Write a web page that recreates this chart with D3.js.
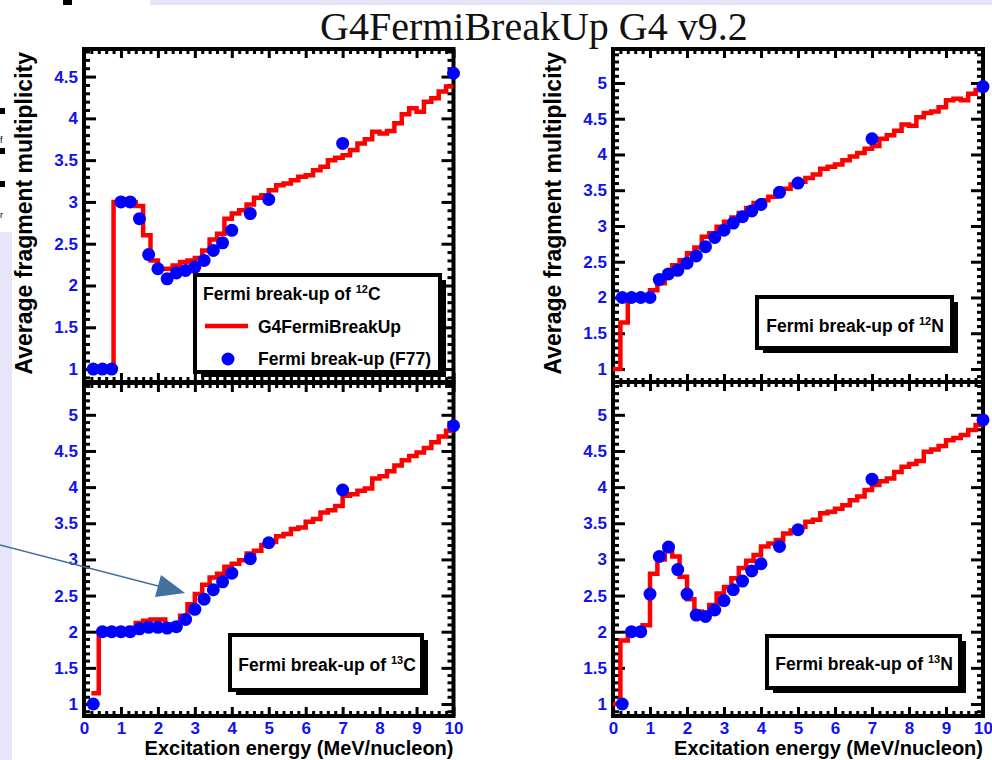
<!DOCTYPE html>
<html>
<head>
<meta charset="utf-8">
<script src="https://cdn.jsdelivr.net/npm/d3@7"></script>
<style>
  html, body { margin: 0; padding: 0; background: #ffffff; }
  svg { display: block; }
</style>
</head>
<body>
<svg id="chart" width="992" height="760"></svg>
<script>
// ---------------- DATA ----------------
const binEdges = [0,0.2,0.4,0.6,0.8,1,1.2,1.4,1.6,1.8,2,2.2,2.4,2.6,2.8,3,3.2,3.4,3.6,3.8,
                  4,4.2,4.4,4.6,4.8,5,5.2,5.4,5.6,5.8,6,6.2,6.4,6.6,6.8,7,7.2,7.4,7.6,7.8,
                  8,8.2,8.4,8.6,8.8,9,9.2,9.4,9.6,9.8,10];
const pointX = [0.25,0.5,0.75,1,1.25,1.5,1.75,2,2.25,2.5,2.75,3,3.25,3.5,3.75,4,4.5,5,7,10];

// G4FermiBreakUp histograms (one value per bin)
const histC12 = [null,1.0,1.0,1.0,3.0,3.0,3.0,2.95,2.6,2.3,
                 2.2,2.2,2.24,2.28,2.3,2.33,2.42,2.55,2.62,2.8,
                 2.86,2.9,2.97,3.05,3.08,3.14,3.2,3.22,3.26,3.3,
                 3.32,3.38,3.42,3.5,3.53,3.56,3.62,3.7,3.75,3.84,
                 3.82,3.85,3.94,4.05,4.12,4.08,4.2,4.24,4.32,4.38];
const histN12 = [1.0,1.65,2.0,2.0,2.0,2.1,2.2,2.35,2.45,2.52,
                 2.62,2.7,2.85,2.9,2.99,3.06,3.12,3.18,3.25,3.32,
                 3.36,3.41,3.48,3.52,3.58,3.62,3.67,3.72,3.8,3.83,
                 3.86,3.92,3.97,4.02,4.08,4.12,4.22,4.27,4.33,4.42,
                 4.4,4.52,4.58,4.6,4.66,4.76,4.78,4.76,4.85,4.9];
const histC13 = [null,1.15,2.0,2.0,2.0,2.0,2.05,2.12,2.15,2.17,
                 2.17,2.1,2.1,2.22,2.38,2.52,2.65,2.75,2.8,2.9,
                 2.94,2.99,3.08,3.12,3.2,3.24,3.32,3.35,3.42,3.44,
                 3.52,3.56,3.65,3.68,3.74,3.88,3.9,3.95,3.98,4.12,
                 4.15,4.22,4.3,4.37,4.43,4.48,4.54,4.62,4.7,4.78];
const histN13 = [1.0,1.88,2.0,2.0,2.09,2.8,3.0,3.12,3.04,2.76,
                 2.45,2.28,2.25,2.37,2.53,2.62,2.74,2.88,2.98,3.06,
                 3.18,3.22,3.27,3.36,3.4,3.45,3.52,3.55,3.64,3.66,
                 3.7,3.75,3.82,3.87,3.96,4.03,4.08,4.12,4.21,4.28,
                 4.32,4.36,4.49,4.52,4.57,4.65,4.68,4.72,4.79,4.86];

// Fermi break-up (F77) points
const ptsC12 = [1.0,1.0,1.0,3.0,3.0,2.8,2.37,2.2,2.08,2.15,2.18,2.22,2.3,2.42,2.51,2.66,2.86,3.03,3.70,4.54];
const ptsN12 = [2.0,2.0,2.0,2.0,2.25,2.33,2.38,2.48,2.58,2.71,2.84,2.94,3.04,3.13,3.21,3.3,3.47,3.6,4.22,4.95];
const ptsC13 = [1.0,2.0,2.0,2.0,2.0,2.04,2.06,2.06,2.05,2.07,2.17,2.31,2.45,2.58,2.69,2.81,3.01,3.23,3.96,4.85];
const ptsN13 = [1.0,2.0,2.0,2.52,3.04,3.17,2.86,2.52,2.23,2.21,2.3,2.43,2.58,2.7,2.84,2.94,3.18,3.41,4.11,4.93];

const xTickLabels = [0,1,2,3,4,5,6,7,8,9,10];
const yTicksC12 = [1,1.5,2,2.5,3,3.5,4,4.5];
const yTicksOther = [1,1.5,2,2.5,3,3.5,4,4.5,5];

const titleText = "G4FermiBreakUp G4 v9.2";
const yTitle = "Average fragment multiplicity";
const xTitle = "Excitation energy (MeV/nucleon)";
const legendHist = "G4FermiBreakUp";
const legendPts = "Fermi break-up (F77)";

// ---------------- DRAW ----------------
const svg = d3.select("#chart");
const SANS = "'Liberation Sans', Arial, Helvetica, sans-serif";
const BLUE_TXT = "#1212ee";

// slide background pieces
svg.append("rect").attr("x",150).attr("y",0).attr("width",842).attr("height",5).attr("fill","#e6e6f8");
svg.append("rect").attr("x",0).attr("y",232).attr("width",12).attr("height",528).attr("fill","#e6e6f8");
[[0,108,5,6],[0,148,5,6],[0,181,5,6],[63,0,9,5]].forEach(r=>{
  svg.append("rect").attr("x",r[0]).attr("y",r[1]).attr("width",r[2]).attr("height",r[3]).attr("fill","#000");
});
svg.append("text").attr("x",0).attr("y",143).attr("font-family",SANS).attr("font-size",9).text("f");
svg.append("text").attr("x",0).attr("y",218).attr("font-family",SANS).attr("font-size",9).text("r");

// title
svg.append("text").attr("x",320).attr("y",40)
  .attr("font-family","'Liberation Serif', 'Times New Roman', serif")
  .attr("font-size",40).attr("fill","#111").text(titleText);

const panels = [
  {hist:histC12, pts:ptsC12, x0:84,  x1:453.5, y0:49,  y1:382, yDom:[0.845,4.83], yTicks:yTicksC12,  xLabels:false},
  {hist:histN12, pts:ptsN12, x0:613, x1:983,   y0:49,  y1:383, yDom:[0.804,5.475], yTicks:yTicksOther, xLabels:false},
  {hist:histC13, pts:ptsC13, x0:84,  x1:453.5, y0:383, y1:716, yDom:[0.834,5.44], yTicks:yTicksOther, xLabels:true},
  {hist:histN13, pts:ptsN13, x0:613, x1:983,   y0:382, y1:716, yDom:[0.834,5.454], yTicks:yTicksOther, xLabels:true}
];

function styleAxis(g, withLabels){
  g.select(".domain").remove();
  g.selectAll(".tick line").attr("stroke","#000").attr("stroke-width",3);
  g.selectAll(".tick text").attr("font-family",SANS).attr("font-weight","bold")
    .attr("font-size",17).attr("fill",BLUE_TXT);
  if(!withLabels) g.selectAll(".tick text").remove();
}

panels.forEach(p=>{
  const x = d3.scaleLinear().domain([0,10]).range([p.x0,p.x1]);
  const y = d3.scaleLinear().domain(p.yDom).range([p.y1,p.y0]);
  const g = svg.append("g");

  g.append("rect").attr("x",p.x0).attr("y",p.y0).attr("width",p.x1-p.x0).attr("height",p.y1-p.y0)
    .attr("fill","#fff");

  // minor ticks
  const yMinor = d3.range(0,60).map(i=>i/10).filter(v=>v>p.yDom[0] && v<p.yDom[1] && Math.abs(v*2-Math.round(v*2))>1e-6);
  const xMinor = d3.range(1,50).map(i=>i/5).filter(v=>Math.abs(v-Math.round(v))>1e-6);

  const L = g.append("g").attr("transform",`translate(${p.x0},0)`)
    .call(d3.axisLeft(y).tickValues(yMinor).tickSizeInner(-6).tickSizeOuter(0).tickFormat(""));
  styleAxis(L,false);
  const R = g.append("g").attr("transform",`translate(${p.x1},0)`)
    .call(d3.axisRight(y).tickValues(yMinor).tickSizeInner(-6).tickSizeOuter(0).tickFormat(""));
  styleAxis(R,false);
  const T = g.append("g").attr("transform",`translate(0,${p.y0})`)
    .call(d3.axisTop(x).tickValues(xMinor).tickSizeInner(-5).tickSizeOuter(0).tickFormat(""));
  styleAxis(T,false);
  const B = g.append("g").attr("transform",`translate(0,${p.y1})`)
    .call(d3.axisBottom(x).tickValues(xMinor).tickSizeInner(-5).tickSizeOuter(0).tickFormat(""));
  styleAxis(B,false);

  // major ticks
  const LM = g.append("g").attr("transform",`translate(${p.x0},0)`)
    .call(d3.axisLeft(y).tickValues(p.yTicks).tickSizeInner(-12).tickSizeOuter(0).tickPadding(6).tickFormat(d3.format("~g")));
  styleAxis(LM,true);
  const RM = g.append("g").attr("transform",`translate(${p.x1},0)`)
    .call(d3.axisRight(y).tickValues(p.yTicks).tickSizeInner(-12).tickSizeOuter(0));
  styleAxis(RM,false);
  const TM = g.append("g").attr("transform",`translate(0,${p.y0})`)
    .call(d3.axisTop(x).tickValues(xTickLabels).tickSizeInner(-9).tickSizeOuter(0));
  styleAxis(TM,false);
  const BM = g.append("g").attr("transform",`translate(0,${p.y1})`)
    .call(d3.axisBottom(x).tickValues(xTickLabels).tickSizeInner(-9).tickSizeOuter(0).tickPadding(6).tickFormat(d3.format("d")));
  styleAxis(BM,p.xLabels);

  // frame
  g.append("rect").attr("x",p.x0).attr("y",p.y0).attr("width",p.x1-p.x0).attr("height",p.y1-p.y0)
    .attr("fill","none").attr("stroke","#000").attr("stroke-width",4);

  // histogram (step line)
  const hp = p.hist.map((v,i)=>({x:binEdges[i], v:v}));
  hp.push({x:binEdges[binEdges.length-1], v:p.hist[p.hist.length-1]});
  const line = d3.line().defined(d=>d.v!==null).x(d=>x(d.x)).y(d=>y(d.v)).curve(d3.curveStepAfter);
  g.append("path").datum(hp).attr("d",line).attr("fill","none")
    .attr("stroke","#ff0000").attr("stroke-width",4.5).attr("stroke-linejoin","miter");

  // points
  g.selectAll("circle.pt").data(p.pts).enter().append("circle").attr("class","pt")
    .attr("cx",(d,i)=>x(pointX[i])).attr("cy",d=>y(d)).attr("r",6.5).attr("fill","#0000ff");

  // axis titles
  if(!p.xLabels){
    g.append("text").attr("transform",`translate(${p.x0-52},${p.y0+3}) rotate(-90)`)
      .attr("text-anchor","end").attr("font-family",SANS).attr("font-weight","bold")
      .attr("font-size",23).attr("fill","#000").text(yTitle);
  } else {
    g.append("text").attr("x",p.x1).attr("y",755).attr("text-anchor","end")
      .attr("font-family",SANS).attr("font-weight","bold").attr("font-size",20).attr("fill","#000").text(xTitle);
  }
});

// boxes with shadow
function box(x,y,w,h){
  svg.append("rect").attr("x",x+6).attr("y",y+5).attr("width",w).attr("height",h).attr("fill","#000");
  svg.append("rect").attr("x",x).attr("y",y).attr("width",w).attr("height",h)
    .attr("fill","#fff").attr("stroke","#000").attr("stroke-width",4);
}
function nucText(x,y,anchor,mass,sym){
  const t = svg.append("text").attr("x",x).attr("y",y).attr("text-anchor",anchor)
    .attr("font-family",SANS).attr("font-weight","bold").attr("font-size",17.5).attr("fill","#000");
  t.append("tspan").text("Fermi break-up of ");
  t.append("tspan").attr("font-size",11).attr("dy",-7).text(mass);
  t.append("tspan").attr("dy",7).text(sym);
}

// legend (top-left)
box(195,275,245,97);
nucText(203,300,"start","12","C");
svg.append("line").attr("x1",205).attr("x2",248).attr("y1",326).attr("y2",326)
  .attr("stroke","#ff0000").attr("stroke-width",4.5);
svg.append("text").attr("x",258).attr("y",333).attr("font-family",SANS).attr("font-weight","bold")
  .attr("font-size",17.5).text(legendHist);
svg.append("circle").attr("cx",228).attr("cy",359).attr("r",6.5).attr("fill","#0000ff");
svg.append("text").attr("x",258).attr("y",365).attr("font-family",SANS).attr("font-weight","bold")
  .attr("font-size",17.5).text(legendPts);

box(757,297,195,51); nucText(855,332,"middle","12","N");
box(230,635,192,55); nucText(327,671,"middle","13","C");
box(767,636,193,52); nucText(864,670,"middle","13","N");

// annotation arrow
const ac = "#41719c";
svg.append("line").attr("x1",0).attr("y1",545).attr("x2",160).attr("y2",586.5)
  .attr("stroke",ac).attr("stroke-width",1.3);
svg.append("path").attr("d","M185,593 L155,597 L161,575 Z").attr("fill",ac);
</script>
</body>
</html>
